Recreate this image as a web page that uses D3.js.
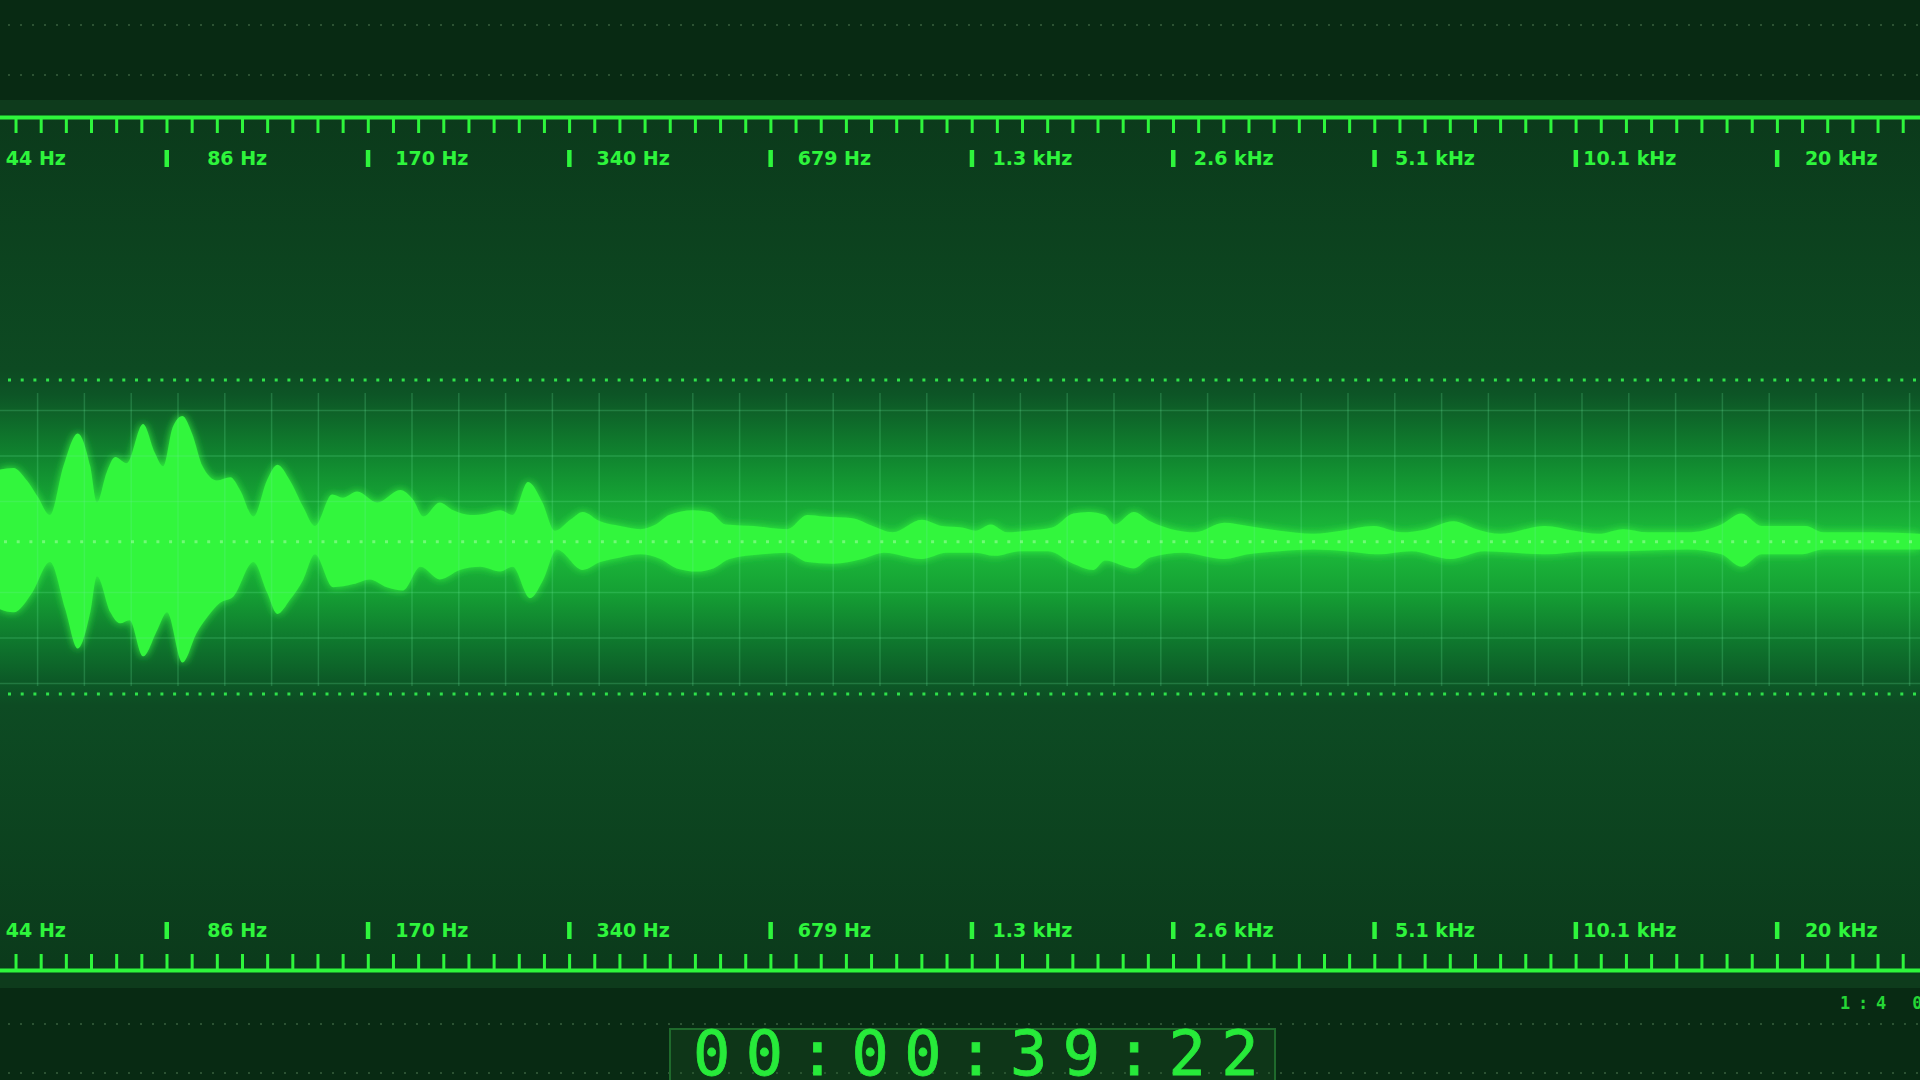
<!DOCTYPE html>
<html>
<head>
<meta charset="utf-8">
<script src="https://cdn.jsdelivr.net/npm/d3@7/dist/d3.min.js"></script>
<style>
  html, body { margin: 0; padding: 0; background: #082a13; overflow: hidden; }
  svg { display: block; }
</style>
</head>
<body>
<svg id="plot"></svg>
<script>
// frequency bands printed on both rulers
bandLabels = ["44 Hz", "86 Hz", "170 Hz", "340 Hz", "679 Hz", "1.3 kHz", "2.6 kHz", "5.1 kHz", "10.1 kHz", "20 kHz"];

// upper envelope of the waveform: time in ms, level (1 = clip line)
topTimes = [0, 14, 28, 39, 52, 66, 81, 94, 101, 111, 120, 132, 149, 161, 170, 180, 190, 200, 211, 226,
    240, 250, 264, 278, 289, 302, 316, 328, 346, 357, 372, 393, 417, 430, 441, 458, 472, 490, 507, 521,
    534, 550, 565, 578, 594, 607, 625, 646, 667, 683, 697, 722, 739, 756, 785, 820, 841, 858, 888, 909,
    930, 960, 981, 1002, 1016, 1032, 1049, 1071, 1096, 1118, 1134, 1151, 1161, 1181, 1198, 1220, 1245, 1275, 1300, 1333,
    1368, 1397, 1431, 1460, 1486, 1514, 1538, 1563, 1609, 1640, 1665, 1691, 1716, 1758, 1793, 1814, 1835, 1856, 1881, 1899,
    1950, 2000];
topLevels = [0.46, 0.47, 0.39, 0.29, 0.17, 0.48, 0.69, 0.48, 0.25, 0.44, 0.54, 0.50, 0.75, 0.57, 0.48, 0.73, 0.80, 0.69, 0.48, 0.39,
    0.41, 0.33, 0.16, 0.39, 0.49, 0.39, 0.22, 0.10, 0.30, 0.28, 0.32, 0.25, 0.33, 0.27, 0.16, 0.25, 0.20, 0.17, 0.18, 0.20,
    0.17, 0.38, 0.25, 0.07, 0.14, 0.19, 0.13, 0.10, 0.08, 0.11, 0.17, 0.20, 0.19, 0.11, 0.10, 0.08, 0.17, 0.16, 0.15, 0.10,
    0.06, 0.14, 0.10, 0.09, 0.07, 0.11, 0.06, 0.07, 0.09, 0.18, 0.19, 0.17, 0.11, 0.19, 0.13, 0.08, 0.06, 0.12, 0.10, 0.07,
    0.05, 0.07, 0.10, 0.06, 0.08, 0.13, 0.08, 0.05, 0.10, 0.07, 0.05, 0.08, 0.06, 0.06, 0.11, 0.18, 0.10, 0.10, 0.10, 0.06,
    0.06, 0.05];

// lower envelope of the waveform: time in ms, level below the baseline
bottomTimes = [0, 14, 34, 52, 68, 81, 94, 101, 115, 125, 135, 149, 164, 174, 190, 205, 216, 229, 243, 264,
    278, 289, 302, 316, 328, 347, 368, 385, 403, 420, 438, 458, 479, 500, 521, 534, 552, 566, 580, 607,
    625, 646, 667, 688, 705, 726, 743, 760, 794, 820, 841, 868, 898, 921, 960, 986, 1016, 1036, 1063, 1092,
    1118, 1139, 1151, 1181, 1198, 1232, 1275, 1300, 1333, 1368, 1401, 1435, 1470, 1511, 1546, 1609, 1656, 1691, 1758, 1793,
    1814, 1835, 1877, 1899, 2000];
bottomLevels = [0.43, 0.45, 0.32, 0.13, 0.43, 0.68, 0.45, 0.22, 0.45, 0.52, 0.50, 0.73, 0.56, 0.45, 0.77, 0.58, 0.48, 0.39, 0.35, 0.13,
    0.32, 0.46, 0.37, 0.24, 0.08, 0.29, 0.27, 0.24, 0.29, 0.31, 0.16, 0.24, 0.18, 0.16, 0.19, 0.16, 0.36, 0.24, 0.05, 0.18,
    0.13, 0.10, 0.08, 0.11, 0.17, 0.19, 0.17, 0.11, 0.08, 0.07, 0.13, 0.14, 0.11, 0.07, 0.11, 0.07, 0.07, 0.09, 0.06, 0.06,
    0.14, 0.18, 0.12, 0.17, 0.10, 0.07, 0.11, 0.08, 0.06, 0.05, 0.06, 0.08, 0.06, 0.11, 0.06, 0.08, 0.06, 0.06, 0.05, 0.08,
    0.16, 0.08, 0.08, 0.05, 0.05];

timecode = "00:00:39:22";
zoomRatio = "1:4 0";

svgWidth = 1920;
svgHeight = 1080;
windowMs = 2000;
baseline = -0.03;
green = "#2ef53c";

rulerTopY = 117;
rulerBottomY = 970;
clipTop = 380;
clipBottom = 694;
bandStart = -34.8;
bandStep = 201.3;

function addDefs(svg) {
    const defs = svg.append("defs");

    const bg = defs.append("linearGradient")
        .attr("id", "panel")
        .attr("gradientUnits", "userSpaceOnUse")
        .attr("x1", 0).attr("x2", 0)
        .attr("y1", 113).attr("y2", 975);
    [
        [0, "#0b3a1b"], [0.298, "#0d4a22"], [0.327, "#0d5526"], [0.399, "#10852f"],
        [0.451, "#16a535"], [0.498, "#1dbd3b"], [0.556, "#15a034"], [0.609, "#0f7a2e"],
        [0.658, "#0c5a27"], [0.687, "#0d4b23"], [1, "#0b3a1b"]
    ].forEach(s => bg.append("stop").attr("offset", s[0]).attr("stop-color", s[1]));

    const glow = defs.append("filter")
        .attr("id", "glow")
        .attr("x", "-5%").attr("y", "-50%")
        .attr("width", "110%").attr("height", "200%");
    glow.append("feGaussianBlur")
        .attr("in", "SourceGraphic")
        .attr("stdDeviation", 4)
        .attr("result", "blur");
    const merge = glow.append("feMerge");
    merge.append("feMergeNode").attr("in", "blur");
    merge.append("feMergeNode").attr("in", "SourceGraphic");
}

function drawBackground(svg) {
    svg.append("rect")
        .attr("width", svgWidth).attr("height", svgHeight)
        .attr("fill", "#082a13");

    svg.append("rect")
        .attr("y", 100).attr("width", svgWidth).attr("height", 888)
        .attr("fill", "#0e3b1c");

    svg.append("rect")
        .attr("y", 113).attr("width", svgWidth).attr("height", 862)
        .attr("fill", "url(#panel)");

    // faint dotted guides in the dark strips
    [25, 75, 1024, 1073].forEach(yy => {
        svg.append("line")
            .attr("x1", 8).attr("x2", svgWidth)
            .attr("y1", yy).attr("y2", yy)
            .attr("stroke", "#2c5233")
            .attr("stroke-width", 2)
            .attr("stroke-dasharray", "2 10");
    });
}

function drawGrid(svg) {
    const g = svg.append("g")
        .attr("stroke", "rgba(110, 235, 160, 0.22)")
        .attr("stroke-width", 1.5);

    d3.range(37.6, svgWidth, 46.8).forEach(xx => {
        g.append("line")
            .attr("x1", xx).attr("x2", xx)
            .attr("y1", 393).attr("y2", 686);
    });

    [0, 1, 2, 4, 5, 6].forEach(k => {
        const yy = 410.5 + k * 45.5;
        g.append("line")
            .attr("x1", 0).attr("x2", svgWidth)
            .attr("y1", yy).attr("y2", yy);
    });
}

function drawWave(svg) {
    const topData = topTimes.map((t, i) => ({t: t, v: topLevels[i]}));
    const bottomData = bottomTimes.map((t, i) => ({t: t, v: bottomLevels[i]}));

    const upper = d3.area()
        .x(d => x(d.t))
        .y0(y(baseline - 0.02))
        .y1(d => y(baseline + d.v))
        .curve(d3.curveMonotoneX);

    const lower = d3.area()
        .x(d => x(d.t))
        .y0(y(baseline + 0.02))
        .y1(d => y(baseline - d.v))
        .curve(d3.curveMonotoneX);

    const wave = svg.append("g")
        .attr("filter", "url(#glow)");

    wave.append("path")
        .datum(topData)
        .attr("fill", "#33f63e")
        .attr("d", upper);

    wave.append("path")
        .datum(bottomData)
        .attr("fill", "#33f63e")
        .attr("d", lower);
}

function drawClipLines(svg) {
    [1, -1].forEach(v => {
        svg.append("line")
            .attr("x1", 8).attr("x2", svgWidth)
            .attr("y1", y(v)).attr("y2", y(v))
            .attr("stroke", "#2fe24a")
            .attr("stroke-width", 3)
            .attr("stroke-dasharray", "3 9.7");
    });

    svg.append("line")
        .attr("x1", 4).attr("x2", svgWidth)
        .attr("y1", y(baseline)).attr("y2", y(baseline))
        .attr("stroke", "rgba(190, 255, 190, 0.45)")
        .attr("stroke-width", 3)
        .attr("stroke-dasharray", "3 9.7");
}

function drawRuler(svg, yy, side) {
    const minorTicks = d3.range(0, bandLabels.length * 8 + 1).map(i => i / 8);
    const axis = (side === "top" ? d3.axisBottom(band) : d3.axisTop(band))
        .tickValues(minorTicks)
        .tickSize(16)
        .tickSizeOuter(0)
        .tickFormat("");

    svg.append("g")
        .attr("transform", `translate(0,${yy})`)
        .call(axis)
        .call(g => g.select(".domain").attr("stroke", green).attr("stroke-width", 4))
        .call(g => g.selectAll(".tick line").attr("stroke", green).attr("stroke-width", 3));

    const labelY = side === "top" ? yy + 41 : yy - 40;
    const row = svg.append("g");

    row.selectAll("rect")
        .data(bandLabels)
        .join("rect")
        .attr("x", (d, i) => band(i) - 2)
        .attr("y", labelY - 8)
        .attr("width", 4.5)
        .attr("height", 17)
        .attr("fill", green);

    row.selectAll("text")
        .data(bandLabels)
        .join("text")
        .text(d => d)
        .attr("x", (d, i) => band(i + 0.5))
        .attr("y", labelY + 7)
        .attr("text-anchor", "end")
        .attr("font-family", "DejaVu Sans")
        .attr("font-weight", "bold")
        .attr("font-size", 19)
        .attr("fill", green);
}

function drawTimecode(svg) {
    svg.append("rect")
        .attr("x", 670).attr("y", 1029)
        .attr("width", 605).attr("height", 70)
        .attr("fill", "rgba(30, 90, 40, 0.25)")
        .attr("stroke", "#1f6a2c")
        .attr("stroke-width", 2);

    svg.append("text")
        .text(timecode)
        .attr("x", 693)
        .attr("y", 1075)
        .attr("font-family", "DejaVu Sans Mono")
        .attr("font-size", 62)
        .attr("letter-spacing", 15.5)
        .attr("fill", "#27ea3a")
        .attr("stroke", "#27ea3a")
        .attr("stroke-width", 0.8);

    svg.append("text")
        .text(zoomRatio)
        .attr("x", 1840)
        .attr("y", 1009)
        .attr("font-family", "DejaVu Sans Mono")
        .attr("font-weight", "bold")
        .attr("font-size", 17)
        .attr("letter-spacing", 7.8)
        .attr("fill", "#25d636");
}

function createSVG() {
    const svg = d3.select("#plot")
        .attr("width", svgWidth)
        .attr("height", svgHeight)
        .attr("viewBox", [0, 0, svgWidth, svgHeight]);

    addDefs(svg);
    drawBackground(svg);
    drawWave(svg);
    drawGrid(svg);
    drawClipLines(svg);
    drawRuler(svg, rulerTopY, "top");
    drawRuler(svg, rulerBottomY, "bottom");
    drawTimecode(svg);
}

function chartMain() {
    x = d3.scaleLinear()
        .domain([0, windowMs])
        .range([0, svgWidth]);

    y = d3.scaleLinear()
        .domain([-1, 1])
        .range([clipBottom, clipTop]);

    band = d3.scaleLinear()
        .domain([0, bandLabels.length])
        .range([bandStart, bandStart + bandStep * bandLabels.length]);

    createSVG();
}

chartMain();
</script>
</body>
</html>
